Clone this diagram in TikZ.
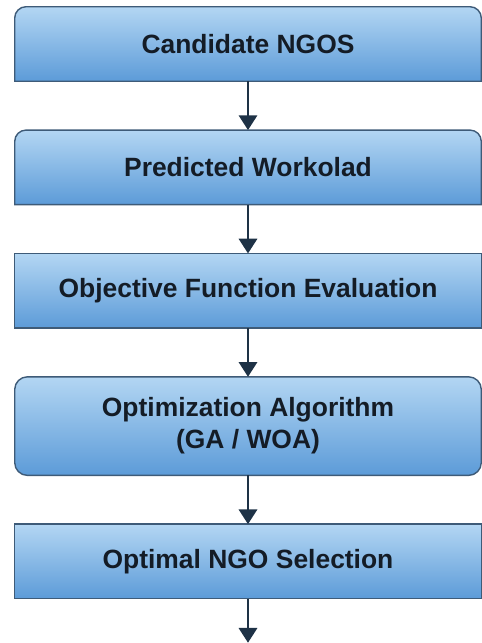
\documentclass[tikz,border=0pt]{standalone}
\usepackage{fontspec}
\setmainfont{Liberation Sans}
\usetikzlibrary{positioning,arrows.meta,backgrounds}
\definecolor{boxtop}{HTML}{B3D6F3}
\definecolor{boxbot}{HTML}{5C9BD8}
\definecolor{boxedge}{HTML}{3E5B78}
\definecolor{arrowcol}{HTML}{1E3246}
\definecolor{textcol}{HTML}{141C26}
\begin{document}
\begin{tikzpicture}[stage/.style={rectangle, minimum width=11.65cm, minimum height=1.85cm, align=center, font=\fontsize{18.8}{22.8}\selectfont\bfseries, text=textcol}, boxpaint/.style={draw=boxedge, line width=1pt, top color=boxtop, bottom color=boxbot}, flow/.style={-{Triangle[width=13pt,length=10.5pt]}, line width=1.8pt, draw=arrowcol}, node distance=1.22cm]
      \useasboundingbox (0,0) rectangle (12.05,-16.075);
      \node[stage] (cand) at (6.2,-1.1) {Candidate NGOS};
      \node[stage, below=of cand] (work) {Predicted Workolad};
      \node[stage, below=of work] (obj) {Objective Function Evaluation};
      \node[stage, below=of obj, minimum height=2.45cm] (algo) {Optimization Algorithm\\(GA / WOA)};
      \node[stage, below=of algo] (sel) {Optimal NGO Selection};
      \coordinate[below=1.1cm of sel] (out);
      \begin{scope}[on background layer]
        \foreach \n in {cand,work}
          \path[boxpaint] (\n.south west) [rounded corners=8pt] -- (\n.north west) -- (\n.north east) [sharp corners] -- (\n.south east) -- cycle;
        \foreach \n in {obj,sel}
          \path[boxpaint] (\n.south west) rectangle (\n.north east);
        \path[boxpaint, rounded corners=9pt] (algo.south west) rectangle (algo.north east);
      \end{scope}
      \draw[flow] (cand) -- (work);
      \draw[flow] (work) -- (obj);
      \draw[flow] (obj) -- (algo);
      \draw[flow] (algo) -- (sel);
      \draw[flow] (sel) -- (out);
    \end{tikzpicture}
\end{document}
